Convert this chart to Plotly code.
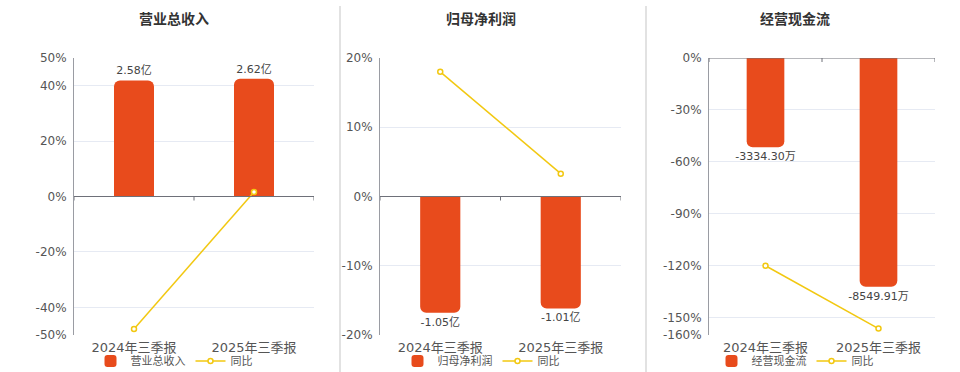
import plotly.graph_objects as go

# Reporting periods
periods = ["2024年三季报", "2025年三季报"]

# 营业总收入 (亿元) and its year-on-year change (%)
revenue = [2.58, 2.62]
revenue_yoy = [-47.8, 1.6]

# 归母净利润 (亿元) and its year-on-year change (%)
net_profit = [-1.05, -1.01]
net_profit_yoy = [18.0, 3.3]

# 经营现金流 (万元) and its year-on-year change (%)
cash_flow = [-3334.30, -8549.91]
cash_flow_yoy = [-120.0, -156.3]

# Percent tick labels shown on each left axis
ticks_1 = [50, 40, 20, 0, -20, -40, -50]
ticks_2 = [20, 10, 0, -10, -20]
ticks_3 = [0, -30, -60, -90, -120, -150, -160]

BAR = "#E84B1C"
LINE = "#F2C811"
GRID = "#E6EAF3"
AXIS = "#6E7079"
TXT = "#555555"
FONT = "DejaVu Sans, Noto Sans CJK SC, sans-serif"

W, H = 960, 372
top_px, bot_px = 58, 335
ydom = [1 - bot_px / H, 1 - top_px / H]
xdoms = [[74 / W, 314 / W], [380 / W, 621 / W], [709 / W, 935 / W]]

panels = [
    dict(title="营业总收入", bars=revenue, unit="亿", yoy=revenue_yoy,
         ticks=ticks_1, prange=[-50, 50], brange=[-3.08, 3.08]),
    dict(title="归母净利润", bars=net_profit, unit="亿", yoy=net_profit_yoy,
         ticks=ticks_2, prange=[-20, 20], brange=[-1.25, 1.25]),
    dict(title="经营现金流", bars=cash_flow, unit="万", yoy=cash_flow_yoy,
         ticks=ticks_3, prange=[-160, 0], brange=[-10350, 0]),
]

fig = go.Figure()
layout = dict(
    width=W, height=H,
    margin=dict(l=0, r=0, t=0, b=0, autoexpand=False),
    paper_bgcolor="white", plot_bgcolor="rgba(0,0,0,0)",
    font=dict(family=FONT, size=12, color=TXT),
    bargap=2 / 3, showlegend=True,
)
shapes = []
annotations = []

for i, p in enumerate(panels):
    n = i + 1
    xa = "x" if n == 1 else f"x{n}"
    ya_bar = "y" if n == 1 else f"y{n}"
    ya_pct = f"y{n + 3}"
    legend_name = "legend" if n == 1 else f"legend{n}"
    xkey = "xaxis" if n == 1 else f"xaxis{n}"
    ybkey = "yaxis" if n == 1 else f"yaxis{n}"
    ypkey = f"yaxis{n + 3}"

    labels = [f"{v:.2f}{p['unit']}" for v in p["bars"]]
    fig.add_trace(go.Bar(
        x=periods, y=p["bars"], name=p["title"], xaxis=xa, yaxis=ya_bar,
        marker=dict(color=BAR, line=dict(width=0, color=BAR)),
        text=labels, textposition="outside", cliponaxis=False,
        constraintext="none",
        textfont=dict(size=11, color="#444444", family=FONT),
        legend=legend_name, hoverinfo="skip",
    ))
    fig.add_trace(go.Scatter(
        x=periods, y=p["yoy"], name="同比", xaxis=xa, yaxis=ya_pct,
        mode="lines+markers", line=dict(color=LINE, width=1.5),
        marker=dict(symbol="circle", size=5, color="white",
                    line=dict(color=LINE, width=1.5)),
        cliponaxis=False, legend=legend_name, hoverinfo="skip",
    ))

    layout[xkey] = dict(
        domain=xdoms[i], anchor=ya_bar, type="category",
        range=[-0.5, 1.5], showgrid=False, zeroline=False, showline=False,
        ticks="", ticklabelstandoff=3,
        tickfont=dict(size=13, color=TXT), fixedrange=True,
    )
    layout[ybkey] = dict(
        domain=ydom, anchor=xa, range=p["brange"], visible=False,
        showgrid=False, zeroline=False, fixedrange=True,
    )
    layout[ypkey] = dict(
        domain=ydom, anchor=xa, overlaying=ya_bar, side="left",
        range=p["prange"], tickvals=p["ticks"],
        ticktext=[f"{t}%" for t in p["ticks"]],
        showgrid=True, gridcolor=GRID, gridwidth=1,
        zeroline=False, showline=True, linecolor="#9A9CA3", linewidth=1,
        ticks="", ticklabelstandoff=4,
        tickfont=dict(size=12, color=TXT), fixedrange=True,
    )

    # category axis drawn along the zero line, with boundary ticks
    shapes.append(dict(type="line", xref=f"{xa} domain", yref=ya_pct,
                       x0=0, x1=1, y0=0, y1=0,
                       line=dict(color=AXIS, width=1.2), layer="above"))
    for b in (-0.5, 0.5, 1.5):
        shapes.append(dict(type="line", xref=xa, yref=ya_pct,
                           ysizemode="pixel", yanchor=0, x0=b, x1=b,
                           y0=0, y1=-4, line=dict(color=AXIS, width=1),
                           layer="above"))

    title_x = [174, 481, 795][i] / W
    annotations.append(dict(
        text=f"<b>{p['title']}</b>", x=title_x, y=1 - 19 / H,
        xref="paper", yref="paper", xanchor="center", yanchor="middle",
        showarrow=False, font=dict(size=14, color="#333333", family=FONT),
    ))
    layout[legend_name] = dict(
        orientation="h", x=title_x, y=1 - 361 / H,
        xanchor="center", yanchor="middle",
        font=dict(size=11, color=TXT, family=FONT),
        bgcolor="rgba(0,0,0,0)", itemwidth=30, tracegroupgap=0,
        itemclick=False, itemdoubleclick=False,
    )

# vertical separators between the three panels
for xs in (340, 646):
    shapes.append(dict(type="line", xref="paper", yref="paper",
                       x0=xs / W, x1=xs / W, y0=0, y1=1 - 6 / H,
                       line=dict(color="#D9D9D9", width=1.5)))

layout["shapes"] = shapes
layout["annotations"] = annotations
fig.update_layout(**layout)
fig.update_traces(selector=dict(type="bar"), marker_cornerradius=6)

fig.write_html("out.html", config={"displayModeBar": False})
